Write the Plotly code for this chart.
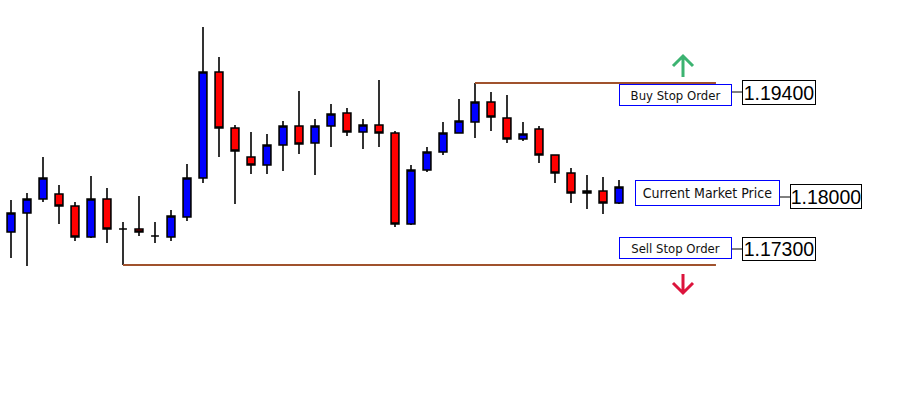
import plotly.graph_objects as go

# ---- data ----
bar_index = list(range(40))
opens = [1.17265, 1.17681, 1.17900, 1.18062, 1.18119, 1.17981, 1.17623, 1.18062, 1.17715, 1.17715,
         1.17635, 1.17623, 1.17854, 1.18304, 1.19527, 1.18881, 1.18546, 1.18454, 1.18685, 1.18904,
         1.18708, 1.18904, 1.19054, 1.18835, 1.18915, 1.18823, 1.17773, 1.18396, 1.18604, 1.18823,
         1.18950, 1.19181, 1.18996, 1.18754, 1.18869, 1.18569, 1.18362, 1.18131, 1.18154, 1.18015]
highs = [1.17704, 1.18050, 1.18131, 1.18546, 1.18223, 1.18027, 1.18327, 1.18188, 1.17796, 1.18096,
         1.17796, 1.17935, 1.18465, 1.20046, 1.19700, 1.18915, 1.18835, 1.18812, 1.18962, 1.19308,
         1.18985, 1.19158, 1.19112, 1.18985, 1.19435, 1.18846, 1.18454, 1.18662, 1.18950, 1.19215,
         1.19400, 1.19296, 1.19262, 1.18950, 1.18904, 1.18569, 1.18419, 1.18338, 1.18315, 1.18281]
lows = [1.17265, 1.17381, 1.17288, 1.18027, 1.17773, 1.17577, 1.17612, 1.17554, 1.17300, 1.17635,
        1.17554, 1.17577, 1.17808, 1.18246, 1.18546, 1.18004, 1.18350, 1.18350, 1.18385, 1.18581,
        1.18338, 1.18662, 1.18788, 1.18638, 1.18662, 1.17738, 1.17762, 1.18373, 1.18569, 1.18823,
        1.18765, 1.18846, 1.18708, 1.18731, 1.18477, 1.18246, 1.18015, 1.17946, 1.17888, 1.18004]
closes = [1.17704, 1.17900, 1.18062, 1.18304, 1.17981, 1.17623, 1.18062, 1.17715, 1.17715, 1.17681,
          1.17635, 1.17865, 1.18304, 1.19527, 1.18881, 1.18615, 1.18454, 1.18685, 1.18904, 1.18696,
          1.18904, 1.19042, 1.18835, 1.18915, 1.18823, 1.17773, 1.18396, 1.18604, 1.18823, 1.18962,
          1.19181, 1.19008, 1.18754, 1.18812, 1.18569, 1.18362, 1.18131, 1.18154, 1.18015, 1.18200]

order_labels = ["Buy Stop Order", "Current Market Price", "Sell Stop Order"]
order_prices = [1.19400, 1.18000, 1.17300]
buy_line_start = 30     # bar whose high anchors the buy stop line
sell_line_start = 8     # bar whose low anchors the sell stop line
line_end = 45.06

W, H = 921, 394


def px(x):
    return x / W


def py(y):
    return 1 - y / H


fig = go.Figure()
fig.add_trace(go.Candlestick(
    x=bar_index, open=opens, high=highs, low=lows, close=closes,
    increasing=dict(fillcolor="#0000FF", line=dict(color="#000000", width=1.6)),
    decreasing=dict(fillcolor="#FF0000", line=dict(color="#000000", width=1.6)),
    whiskerwidth=0, hoverinfo="skip", showlegend=False,
))

brown = "#A0522D"
shapes = [
    dict(type="line", xref="x", yref="y", x0=buy_line_start, x1=line_end,
         y0=order_prices[0], y1=order_prices[0], line=dict(color=brown, width=2.2)),
    dict(type="line", xref="x", yref="y", x0=sell_line_start, x1=line_end,
         y0=order_prices[2], y1=order_prices[2], line=dict(color=brown, width=2.2)),
]

# arrows
green = "#3CB371"
red = "#DC143C"
up_path = (f"M {px(683)},{py(77)} L {px(683)},{py(56)} "
           f"M {px(673)},{py(66)} L {px(683)},{py(56)} L {px(693)},{py(66)}")
dn_path = (f"M {px(683)},{py(274)} L {px(683)},{py(293)} "
           f"M {px(673)},{py(283)} L {px(683)},{py(293)} L {px(693)},{py(283)}")
shapes.append(dict(type="path", xref="paper", yref="paper", path=up_path,
                   line=dict(color=green, width=3)))
shapes.append(dict(type="path", xref="paper", yref="paper", path=dn_path,
                   line=dict(color=red, width=3)))

# label boxes geometry (pixel layout)
label_boxes = [(619, 732, 84, 106), (635, 780, 180, 206), (619, 732, 237, 259)]
price_boxes = [(742, 816, 80, 105), (790, 862, 184, 209), (742, 816, 237, 261)]
conn_y = [92, 197, 249]

label_font = "DejaVu Sans Condensed, Liberation Sans, Arial, sans-serif"
annotations = []
for i in range(3):
    lx0, lx1, ly0, ly1 = label_boxes[i]
    annotations.append(dict(
        xref="paper", yref="paper", x=px((lx0 + lx1) / 2), y=py((ly0 + ly1) / 2),
        xanchor="center", yanchor="middle", showarrow=False,
        text=order_labels[i], width=lx1 - lx0 - 2, height=ly1 - ly0 - 2,
        bordercolor="#0000FF", borderwidth=1, borderpad=0, bgcolor="#FFFFFF",
        font=dict(family=label_font, size=14 if i == 1 else 13, color="#111111"),
    ))
    bx0, bx1, by0, by1 = price_boxes[i]
    annotations.append(dict(
        xref="paper", yref="paper", x=px((bx0 + bx1) / 2), y=py((by0 + by1) / 2),
        xanchor="center", yanchor="middle", showarrow=False,
        text=f"{order_prices[i]:.5f}", width=bx1 - bx0 - 2, height=by1 - by0 - 2,
        bordercolor="#000000", borderwidth=1, borderpad=0, bgcolor="#FFFFFF",
        font=dict(family="Liberation Sans Narrow, Liberation Sans, Arial, sans-serif",
                  size=19.5, color="#000000"),
    ))
    shapes.append(dict(type="line", xref="paper", yref="paper",
                       x0=px(lx1), x1=px(bx0), y0=py(conn_y[i]), y1=py(conn_y[i]),
                       line=dict(color="#000000", width=1)))

fig.update_layout(
    width=W, height=H, margin=dict(l=0, r=0, t=0, b=0),
    paper_bgcolor="#FFFFFF", plot_bgcolor="#FFFFFF",
    xaxis=dict(range=[0.3125, 57.875], visible=False, rangeslider=dict(visible=False),
               showgrid=False, zeroline=False, fixedrange=True),
    yaxis=dict(range=[1.158115, 1.203577], visible=False, showgrid=False,
               zeroline=False, fixedrange=True),
    shapes=shapes, annotations=annotations, showlegend=False,
)

fig.write_html("out.html", config={"displayModeBar": False})
